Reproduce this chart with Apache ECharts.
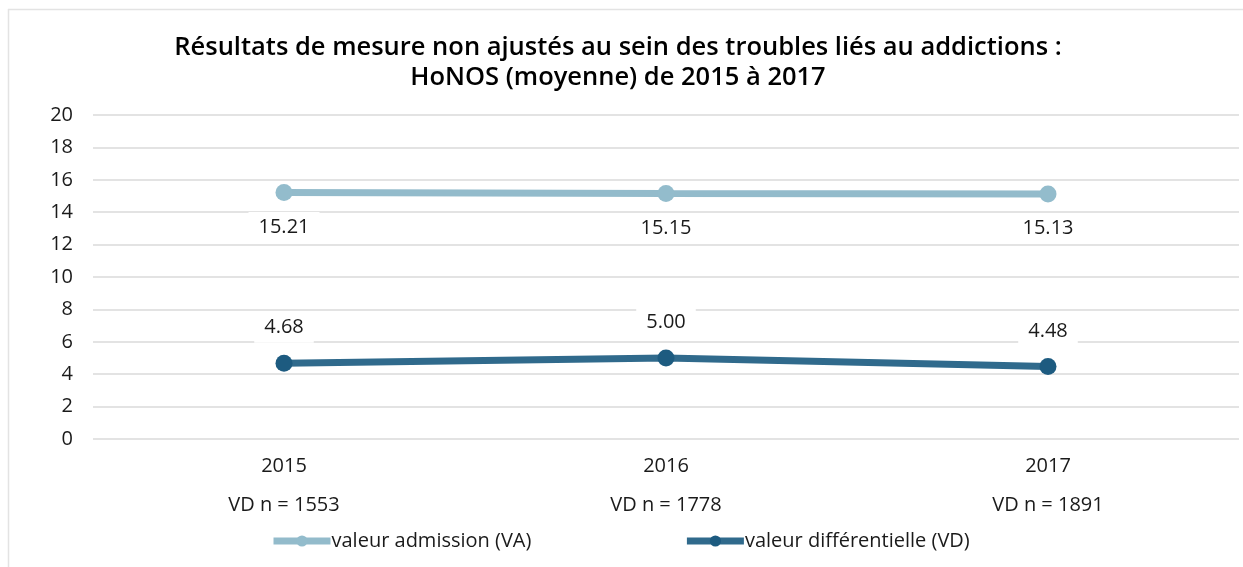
<!DOCTYPE html>
<html>
<head>
<meta charset="utf-8">
<script src="https://cdn.jsdelivr.net/npm/echarts@6/dist/echarts.min.js"></script>
<style>
html,body{margin:0;padding:0;background:#fff;}
#chart{width:1243px;height:567px;}
</style>
</head>
<body>
<div id="chart"></div>
<script>
const titleLines = ["Résultats de mesure non ajustés au sein des troubles liés au addictions :", "HoNOS (moyenne) de 2015 à 2017"];
const years = ["2015", "2016", "2017"];
const sampleLabels = ["VD n = 1553", "VD n = 1778", "VD n = 1891"];
const seriesNames = ["valeur admission (VA)", "valeur différentielle (VD)"];
const vaValues = [15.21, 15.15, 15.13];
const vdValues = [4.68, 5.00, 4.48];
const yTicks = [0, 2, 4, 6, 8, 10, 12, 14, 16, 18, 20];

const FONT = '"Open Sans", "Noto Sans", sans-serif';
const chart = echarts.init(document.getElementById('chart'), null, {renderer: 'canvas'});
const categories = years.map((y, i) => y + '\n' + sampleLabels[i]);

const labelCommon = {
  show: true,
  fontFamily: FONT,
  fontSize: 20,
  color: '#1a1a1a',
  backgroundColor: '#ffffff',
  padding: [5, 10, 5, 10],
  formatter: p => p.value.toFixed(2)
};

chart.setOption({
  animation: false,
  textStyle: {fontFamily: FONT},
  graphic: [
    {type: 'line', shape: {x1: 8.5, y1: 9, x2: 8.5, y2: 567}, style: {stroke: '#e3e3e3', lineWidth: 1.5}},
    {type: 'line', shape: {x1: 8, y1: 9.5, x2: 1243, y2: 9.5}, style: {stroke: '#e3e3e3', lineWidth: 1.5}}
  ],
  title: {
    text: titleLines.join('\n'),
    left: 613,
    textAlign: 'center',
    top: 28,
    textStyle: {fontFamily: FONT, fontSize: 25.5, fontWeight: 600, color: '#000', lineHeight: 30}
  },
  legend: {
    bottom: 11,
    left: 265,
    itemGap: 152,
    itemWidth: 57,
    itemHeight: 14,
    lineStyle: {width: 7},
    textStyle: {fontFamily: FONT, fontSize: 20, color: '#1a1a1a', padding: [0, 0, 0, -4]},
    data: seriesNames
  },
  grid: {left: 93, right: 4, top: 115, bottom: 128},
  xAxis: {
    type: 'category',
    data: categories,
    boundaryGap: true,
    axisLine: {show: false},
    axisTick: {show: false},
    axisLabel: {fontFamily: FONT, fontSize: 20, color: '#1a1a1a', lineHeight: 39, margin: 8}
  },
  yAxis: {
    type: 'value',
    min: 0, max: 20, interval: 2,
    axisLine: {show: false},
    axisTick: {show: false},
    splitLine: {lineStyle: {color: '#e3e3e3', width: 2}},
    axisLabel: {fontFamily: FONT, fontSize: 20, color: '#1a1a1a', margin: 20,
      formatter: v => yTicks.includes(v) ? String(v) : ''}
  },
  series: [
    {
      name: seriesNames[0],
      type: 'line',
      data: vaValues,
      symbol: 'circle',
      symbolSize: 17,
      itemStyle: {color: '#93bccc'},
      lineStyle: {color: '#93bbcb', width: 7},
      label: Object.assign({}, labelCommon, {position: 'bottom', distance: 11})
    },
    {
      name: seriesNames[1],
      type: 'line',
      data: vdValues,
      symbol: 'circle',
      symbolSize: 17,
      itemStyle: {color: '#1d5b80'},
      lineStyle: {color: '#306a8c', width: 7},
      label: Object.assign({}, labelCommon, {position: 'top', distance: 12})
    }
  ]
});
</script>
</body>
</html>
